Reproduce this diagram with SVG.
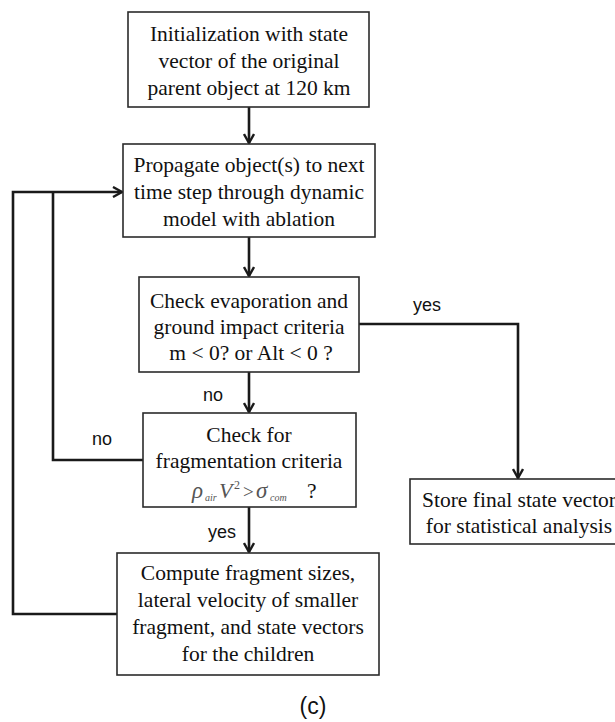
<svg xmlns="http://www.w3.org/2000/svg" width="615" height="722" viewBox="0 0 615 722">
<style>
.box{fill:#fff;stroke:#2b2b2b;stroke-width:1.6}
.t{font-family:"Liberation Serif","Times New Roman",serif;font-size:21.5px;fill:#111;text-anchor:middle}
.lbl{font-family:"Liberation Sans",Arial,sans-serif;font-size:18px;fill:#111}
.c{fill:none;stroke:#1a1a1a;stroke-width:2.6;stroke-linejoin:miter}
.f{font-family:"Liberation Serif","Times New Roman",serif;fill:#555}
</style>
<defs>
<marker id="ah" markerWidth="12" markerHeight="12" viewBox="-10 -6 12 12" refX="0" refY="0" orient="auto" markerUnits="userSpaceOnUse">
<path d="M-9,-5 L0,0 L-9,5" fill="none" stroke="#1a1a1a" stroke-width="2.4"/>
</marker>
</defs>
<rect width="615" height="722" fill="#fff"/>
<g id="connectors">
<path class="c" d="M249,107 V143" marker-end="url(#ah)"/>
<path class="c" d="M249,237 V276" marker-end="url(#ah)"/>
<path class="c" d="M249,372 V412" marker-end="url(#ah)"/>
<path class="c" d="M359,324 H518 V478" marker-end="url(#ah)"/>
<path class="c" d="M249,507 V552" marker-end="url(#ah)"/>
<path class="c" d="M143,460 H53 V192"/>
<path class="c" d="M117,614 H13 V192 H122" marker-end="url(#ah)"/>
<text class="lbl" x="413" y="311">yes</text>
<text class="lbl" x="203" y="401">no</text>
<text class="lbl" x="92" y="445">no</text>
<text class="lbl" x="208" y="538">yes</text>
</g>
<g id="n1">
<rect class="box" x="128" y="12" width="241" height="95"/>
<text class="t" x="249" y="41">Initialization with state</text>
<text class="t" x="249" y="68">vector of the original</text>
<text class="t" x="249" y="95">parent object at 120 km</text>
</g>
<g id="n2">
<rect class="box" x="123" y="144" width="252" height="93"/>
<text class="t" x="249" y="172">Propagate object(s) to next</text>
<text class="t" x="249" y="199">time step through dynamic</text>
<text class="t" x="249" y="226">model with ablation</text>
</g>
<g id="n3">
<rect class="box" x="139" y="277" width="220" height="95"/>
<text class="t" x="249" y="308">Check evaporation and</text>
<text class="t" x="249" y="334">ground impact criteria</text>
<text class="t" x="251" y="360">m &lt; 0? or Alt &lt; 0 ?</text>
</g>
<g id="n4">
<rect class="box" x="143" y="413" width="213" height="94"/>
<text class="t" x="249" y="442">Check for</text>
<text class="t" x="249" y="468">fragmentation criteria</text>
<text class="f" y="498"><tspan x="192" font-size="23" font-style="italic">ρ</tspan><tspan x="205" y="501" font-size="10" font-style="italic">air</tspan><tspan x="219" y="498" font-size="22" font-style="italic">V</tspan><tspan x="234" y="489" font-size="12">2</tspan><tspan x="243" y="498" font-size="19">&gt;</tspan><tspan x="256" font-size="23" font-style="italic">σ</tspan><tspan x="270" y="501" font-size="10" font-style="italic">com</tspan><tspan x="307" y="498" font-size="21.5" fill="#111">?</tspan></text>
</g>
<g id="n5">
<rect class="box" x="410" y="479" width="216" height="65"/>
<text class="t" x="519" y="507">Store final state vector</text>
<text class="t" x="519" y="533">for statistical analysis</text>
</g>
<g id="n6">
<rect class="box" x="117" y="553" width="262" height="122"/>
<text class="t" x="248" y="580">Compute fragment sizes,</text>
<text class="t" x="248" y="607">lateral velocity of smaller</text>
<text class="t" x="248" y="634">fragment, and state vectors</text>
<text class="t" x="248" y="661">for the children</text>
</g>
<text x="313" y="714" font-family="Liberation Sans, Arial, sans-serif" font-size="23" fill="#111" text-anchor="middle">(c)</text>
</svg>
